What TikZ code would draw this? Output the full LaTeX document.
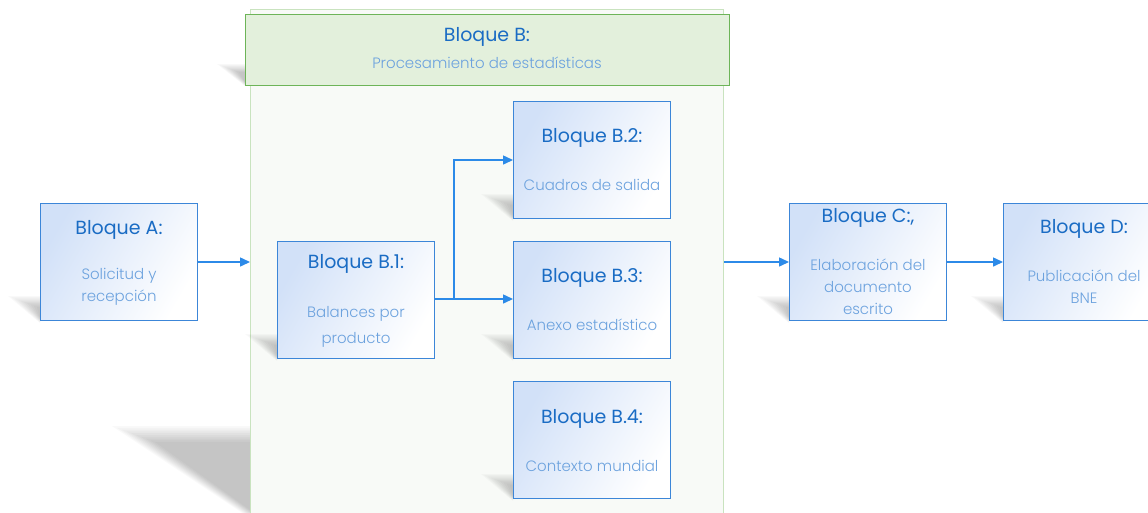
\documentclass[tikz,border=0pt]{standalone}
\usepackage{fontspec}
\setmainfont{Poppins}
\newfontfamily\lightfont{Poppins Light}
\usetikzlibrary{arrows.meta}
\definecolor{boxblue}{HTML}{D2E1F8}
\definecolor{boxborder}{HTML}{3C86D8}
\definecolor{titleblue}{HTML}{1A6CC4}
\definecolor{subblue}{HTML}{6CA2DE}
\definecolor{arrowblue}{HTML}{2C8AE8}
\definecolor{contborder}{HTML}{C9E3BF}
\definecolor{contfill}{HTML}{F8FAF7}
\definecolor{headfill}{HTML}{E3F0DC}
\definecolor{headborder}{HTML}{6DB458}
\newcommand\wedgeshadow[5]{% x y w h blur
  \foreach \k in {0,...,9}{
    \fill[black,opacity=0.024] ({#1-#3+\k*#5*1.6},{#2-#4+\k*#5*0.6}) -- ({#1},{#2-#4+\k*#5*0.6}) -- ({#1},{#2-\k*#5*0.3}) -- cycle;
  }}
\tikzset{
  bbox/.style={draw=boxborder, line width=1.1pt, left color=boxblue, right color=white, shading angle=60, minimum width=157pt, minimum height=117pt, inner sep=0pt},
  ttl/.style={text=titleblue, font=\fontsize{19}{22}\selectfont},
  sub/.style={text=subblue, font=\lightfont\fontsize{15}{22}\selectfont, align=center},
  conn/.style={draw=arrowblue, line width=1.5pt, -{Triangle[length=10pt,width=9pt]}},
}
\begin{document}
\begin{tikzpicture}[x=1pt,y=-1pt]
\useasboundingbox (0,0) rectangle (1148,512);
\fill[white] (0,0) rectangle (1148,512);
% container shadow
\wedgeshadow{250}{518}{138}{92}{3}
% container
\node[draw=contborder, line width=1.2pt, fill=contfill, minimum width=473pt, minimum height=520pt, inner sep=0pt, anchor=north west] (cont) at (250,9) {};
% header
\wedgeshadow{245}{86}{28}{22}{1.5}
\node[draw=headborder, line width=1.2pt, fill=headfill, minimum width=484pt, minimum height=71pt, inner sep=0pt, anchor=north west] (head) at (245,14) {};
\node[ttl] (headt) at (487,37) {Bloque B:};
\node[sub] (heads) at (487,63) {Procesamiento de estadísticas};
% shadows of boxes
\wedgeshadow{40}{323}{32}{27}{2}
\wedgeshadow{277}{361}{32}{27}{2}
\wedgeshadow{513}{221}{32}{27}{2}
\wedgeshadow{513}{361}{32}{27}{2}
\wedgeshadow{513}{501}{32}{27}{2}
\wedgeshadow{789}{323}{32}{27}{2}
\wedgeshadow{1003}{323}{32}{27}{2}
% boxes
\node[bbox, anchor=north west] (A) at (40,203) {};
\node[ttl] (At) at (119,230) {Bloque A:};
\node[sub] (As) at (119,287) {Solicitud y\\recepción};
\node[bbox, anchor=north west] (B1) at (277,241) {};
\node[ttl] (B1t) at (356,264) {Bloque B.1:};
\node[sub, font=\lightfont\fontsize{15}{26}\selectfont] (B1s) at (356,327) {Balances por\\producto};
\node[bbox, anchor=north west] (B2) at (513,101) {};
\node[ttl] (B2t) at (592,138) {Bloque B.2:};
\node[sub] (B2s) at (592,185) {Cuadros de salida};
\node[bbox, anchor=north west] (B3) at (513,241) {};
\node[ttl] (B3t) at (592,278) {Bloque B.3:};
\node[sub] (B3s) at (592,325) {Anexo estadístico};
\node[bbox, anchor=north west] (B4) at (513,381) {};
\node[ttl] (B4t) at (592,419) {Bloque B.4:};
\node[sub] (B4s) at (592,466) {Contexto mundial};
\node[bbox, anchor=north west] (C) at (789,203) {};
\node[ttl] (Ct) at (868,218) {Bloque C:,};
\node[sub] (Cs) at (868,287) {Elaboración del\\documento\\escrito};
\node[bbox, anchor=north west] (D) at (1003,203) {};
\node[ttl] (Dt) at (1084,229) {Bloque D:};
\node[sub] (Ds) at (1084,287) {Publicación del\\BNE};
% connectors
\coordinate (J) at (454,299);
\draw[conn] (A.east |- 0,262) -- (cont.west |- 0,262);
\draw[draw=arrowblue, line width=1.5pt] (B1.east |- J) -- (J);
\draw[conn] (J) |- (B2.west |- 0,160);
\draw[conn] (J) -- (B3.west |- J);
\draw[conn] (cont.east |- 0,262) -- (C.west |- 0,262);
\draw[conn] (C.east |- 0,262) -- (D.west |- 0,262);
\end{tikzpicture}
\end{document}
